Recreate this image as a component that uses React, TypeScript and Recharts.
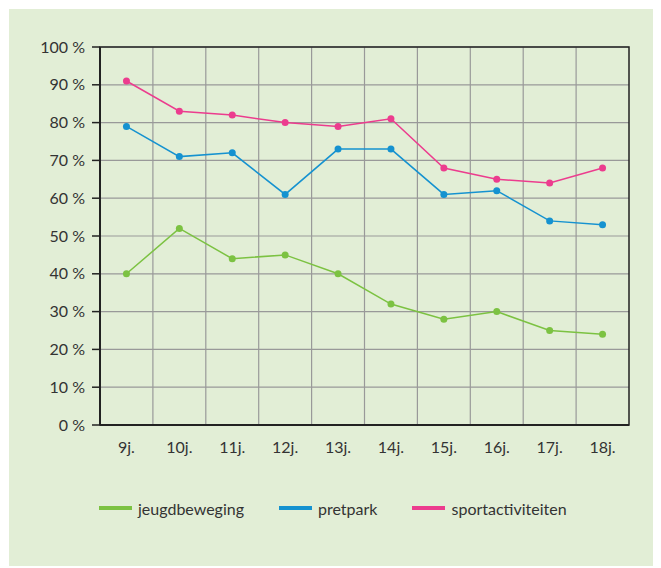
import React from 'react';
import { LineChart, Line, XAxis, YAxis, CartesianGrid, Legend, ReferenceArea } from 'recharts';

const ages = ['9j.', '10j.', '11j.', '12j.', '13j.', '14j.', '15j.', '16j.', '17j.', '18j.'];
const jeugdbeweging = [40, 52, 44, 45, 40, 32, 28, 30, 25, 24];
const pretpark = [79, 71, 72, 61, 73, 73, 61, 62, 54, 53];
const sportactiviteiten = [91, 83, 82, 80, 79, 81, 68, 65, 64, 68];
const yTicks = [0, 10, 20, 30, 40, 50, 60, 70, 80, 90, 100];

const series = [
  { key: 'jeugdbeweging', color: '#7cc242' },
  { key: 'pretpark', color: '#1592d0' },
  { key: 'sportactiviteiten', color: '#ec3c8e' },
];

const data = ages.map((age, i) => ({
  age,
  jeugdbeweging: jeugdbeweging[i],
  pretpark: pretpark[i],
  sportactiviteiten: sportactiviteiten[i],
}));

const FONT = 'Lato, "Open Sans", sans-serif';
const TEXT = '#333';

const LegendContent = () => (
  <div style={{ display: 'flex', alignItems: 'center', height: 20, paddingLeft: 90, fontFamily: FONT, fontSize: 16, color: TEXT }}>
    {series.map(s => (
      <div key={s.key} style={{ display: 'flex', alignItems: 'center', marginRight: 35 }}>
        <span style={{ display: 'inline-block', width: 33, height: 4, background: s.color, marginRight: 6 }} />
        <span>{s.key}</span>
      </div>
    ))}
  </div>
);

const App = () => {
  return (
    <div style={{ marginLeft: 1, marginTop: 1, width: 652, height: 557, background: '#e2eed6' }}>
      <LineChart width={652} height={557} data={data} margin={{ top: 38, right: 32, bottom: 48, left: 0 }}>
        <CartesianGrid
          stroke="#999"
          strokeWidth={1.2}
          verticalCoordinatesGenerator={({ offset }: any) => {
            const step = offset.width / ages.length;
            return ages.map((_, i) => offset.left + step * i);
          }}
        />
        <ReferenceArea y1={0} y2={100} fill="none" stroke="#222" strokeWidth={1.5} ifOverflow="visible" />
        <XAxis
          dataKey="age"
          scale="band"
          height={73}
          tickLine={false}
          tickSize={0}
          tickMargin={17}
          axisLine={{ stroke: '#222', strokeWidth: 2 }}
          tick={{ fill: TEXT, fontSize: 16, fontFamily: FONT }}
        />
        <YAxis
          width={91}
          domain={[0, 100]}
          ticks={yTicks}
          interval={0}
          tickSize={8}
          tickMargin={7}
          tickFormatter={(v: number) => `${v} %`}
          tickLine={{ stroke: '#222', strokeWidth: 1.5 }}
          axisLine={{ stroke: '#222', strokeWidth: 2 }}
          tick={{ fill: TEXT, fontSize: 16, fontFamily: FONT }}
        />
        <Legend verticalAlign="bottom" content={LegendContent} wrapperStyle={{ left: 0, width: 652 }} />
        {series.map(s => (
          <Line
            key={s.key}
            dataKey={s.key}
            stroke={s.color}
            strokeWidth={1.5}
            dot={{ r: 3.5, fill: s.color, stroke: 'none' }}
            activeDot={false}
            isAnimationActive={false}
          />
        ))}
      </LineChart>
    </div>
  );
};

export default App;
